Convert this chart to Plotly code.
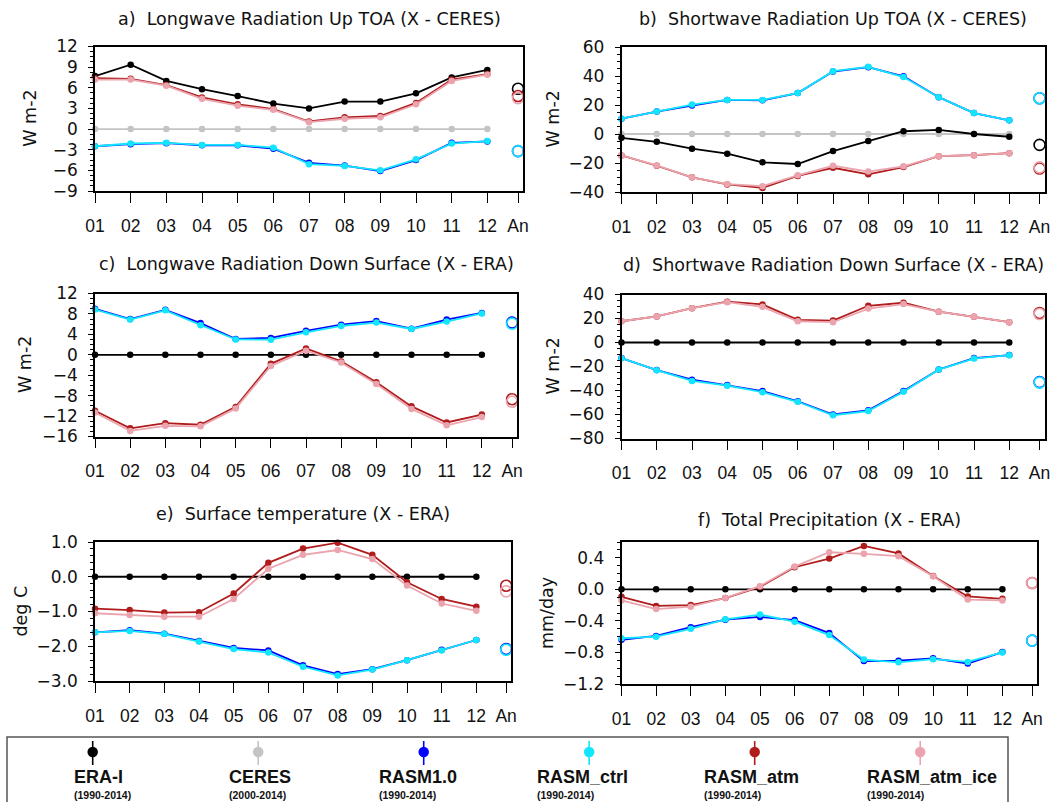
import plotly.graph_objects as go

W, H = 1056, 802

# ---------------- data ----------------
month_labels = ["01", "02", "03", "04", "05", "06", "07", "08", "09", "10", "11", "12"]
annual_label = "An"
month_pos = list(range(1, 13))
annual_pos = 12.86

series_names = ["ERA-I", "CERES", "RASM1.0", "RASM_ctrl", "RASM_atm", "RASM_atm_ice"]
series_years = ["(1990-2014)", "(2000-2014)", "(1990-2014)", "(1990-2014)", "(1990-2014)", "(1990-2014)"]

# a) Longwave Radiation Up TOA (X - CERES)
era_a = [7.7, 9.35, 7.0, 5.8, 4.8, 3.7, 3.0, 4.0, 4.0, 5.2, 7.5, 8.6]
ceres_a = [0, 0, 0, 0, 0, 0, 0, 0, 0, 0, 0, 0]
rasm10_a = [-2.5, -2.2, -2.05, -2.35, -2.35, -2.85, -4.9, -5.3, -6.1, -4.5, -2.0, -1.8]
ctrl_a = [-2.5, -2.1, -2.0, -2.3, -2.3, -2.7, -5.1, -5.35, -6.0, -4.4, -2.1, -1.75]
atm_a = [7.4, 7.3, 6.4, 4.6, 3.6, 2.9, 1.1, 1.7, 1.9, 3.8, 7.2, 8.0]
ice_a = [7.2, 7.2, 6.3, 4.4, 3.4, 2.8, 1.0, 1.5, 1.7, 3.6, 7.0, 7.9]
an_a = {"ERA-I": 5.85, "RASM1.0": -3.2, "RASM_ctrl": -3.2, "RASM_atm": 4.8, "RASM_atm_ice": 4.5}

# b) Shortwave Radiation Up TOA (X - CERES)
era_b = [-2.6, -5.4, -10.1, -13.6, -19.5, -20.7, -11.8, -4.9, 1.9, 2.8, 0.0, -1.9]
ceres_b = [0, 0, 0, 0, 0, 0, 0, 0, 0, 0, 0, 0]
rasm10_b = [10.6, 15.5, 19.6, 23.5, 23.2, 28.2, 43.1, 46.1, 39.8, 25.4, 14.4, 9.4]
ctrl_b = [10.6, 15.5, 20.3, 23.5, 23.5, 28.2, 43.3, 46.3, 39.3, 25.4, 14.4, 9.4]
atm_b = [-14.8, -21.9, -29.9, -34.8, -37.2, -28.9, -23.3, -27.8, -22.8, -15.3, -14.6, -13.2]
ice_b = [-14.8, -21.7, -29.9, -34.5, -36.0, -28.5, -21.9, -25.9, -22.3, -15.3, -14.6, -13.2]
an_b = {"ERA-I": -7.5, "RASM1.0": 24.7, "RASM_ctrl": 24.7, "RASM_atm": -23.8, "RASM_atm_ice": -23.0}

# c) Longwave Radiation Down Surface (X - ERA)
era_c = [0, 0, 0, 0, 0, 0, 0, 0, 0, 0, 0, 0]
rasm10_c = [9.0, 7.0, 8.8, 6.2, 3.1, 3.3, 4.7, 5.9, 6.6, 5.1, 6.9, 8.2]
ctrl_c = [8.85, 6.9, 8.7, 5.8, 3.0, 2.95, 4.4, 5.64, 6.3, 5.05, 6.5, 8.1]
atm_c = [-10.95, -14.4, -13.4, -13.7, -10.2, -1.77, 1.25, -1.3, -5.4, -10.1, -13.25, -11.7]
ice_c = [-11.3, -14.9, -13.9, -14.0, -10.5, -2.2, 0.8, -1.5, -5.7, -10.6, -13.8, -12.2]
an_c = {"RASM_ctrl": 6.1, "RASM1.0": 6.3, "RASM_atm": -8.7, "RASM_atm_ice": -9.2}

# d) Shortwave Radiation Down Surface (X - ERA)
era_d = [0, 0, 0, 0, 0, 0, 0, 0, 0, 0, 0, 0]
rasm10_d = [-13.0, -23.0, -31.0, -35.5, -40.5, -49.0, -60.0, -56.5, -40.5, -22.5, -13.0, -10.5]
ctrl_d = [-13.1, -23.1, -32.0, -36.0, -41.4, -49.4, -60.6, -57.1, -41.1, -22.6, -13.4, -10.6]
atm_d = [17.7, 21.7, 28.6, 34.0, 31.7, 18.9, 18.3, 30.6, 33.1, 25.7, 21.4, 16.9]
ice_d = [17.7, 21.7, 28.6, 33.6, 29.7, 17.7, 16.9, 28.3, 32.0, 25.7, 21.4, 16.9]
an_d = {"RASM1.0": -33.0, "RASM_ctrl": -33.4, "RASM_atm_ice": 23.7, "RASM_atm": 24.6}

# e) Surface temperature (X - ERA)
era_e = [0, 0, 0, 0, 0, 0, 0, 0, 0, 0, 0, 0]
rasm10_e = [-1.6, -1.54, -1.64, -1.85, -2.05, -2.12, -2.55, -2.8, -2.66, -2.4, -2.1, -1.82]
ctrl_e = [-1.6, -1.56, -1.65, -1.86, -2.08, -2.18, -2.59, -2.84, -2.67, -2.4, -2.12, -1.82]
atm_e = [-0.92, -0.96, -1.03, -1.02, -0.48, 0.4, 0.81, 0.98, 0.63, -0.16, -0.64, -0.86]
ice_e = [-1.05, -1.1, -1.15, -1.15, -0.64, 0.23, 0.63, 0.77, 0.51, -0.25, -0.77, -0.98]
an_e = {"RASM_ctrl": -2.1, "RASM1.0": -2.08, "RASM_atm_ice": -0.42, "RASM_atm": -0.26}

# f) Total Precipitation (X - ERA)
era_f = [0, 0, 0, 0, 0, 0, 0, 0, 0, 0, 0, 0]
rasm10_f = [-0.64, -0.59, -0.48, -0.385, -0.35, -0.39, -0.555, -0.91, -0.905, -0.875, -0.94, -0.795]
ctrl_f = [-0.62, -0.6, -0.5, -0.38, -0.32, -0.41, -0.58, -0.89, -0.925, -0.885, -0.92, -0.8]
atm_f = [-0.095, -0.21, -0.2, -0.11, 0.03, 0.28, 0.39, 0.55, 0.455, 0.17, -0.09, -0.12]
ice_f = [-0.14, -0.25, -0.22, -0.11, 0.04, 0.29, 0.47, 0.45, 0.42, 0.165, -0.13, -0.14]
an_f = {"RASM_ctrl": -0.65, "RASM1.0": -0.65, "RASM_atm_ice": 0.08, "RASM_atm": 0.08}

# ---------------- styles ----------------
colors = {
    "ERA-I": "#000000",
    "CERES": "#c4c4c4",
    "RASM1.0": "#0000ff",
    "RASM_ctrl": "#12e6ff",
    "RASM_atm": "#b01c1c",
    "RASM_atm_ice": "#eba3ad",
}

TITLE_FONT = dict(family="DejaVu Sans", size=17.5, color="#111")
XTICK_FONT = dict(family="Liberation Sans", size=17.5, color="#111")
YTICK_FONT = dict(family="DejaVu Sans", size=17, color="#111")

panels = [
    dict(title="a)  Longwave Radiation Up TOA (X - CERES)", ytitle="W m-2",
         box=(95, 523, 46.5, 191), title_y=18.5, ytitle_x=30,
         yrange=(-9, 12), dtick=3, minor=0.75, fmt="",
         series=[("CERES", ceres_a), ("ERA-I", era_a), ("RASM1.0", rasm10_a),
                 ("RASM_ctrl", ctrl_a), ("RASM_atm", atm_a), ("RASM_atm_ice", ice_a)],
         annual=an_a),
    dict(title="b)  Shortwave Radiation Up TOA (X - CERES)", ytitle="W m-2",
         box=(621.5, 1044.5, 47, 192), title_y=18.5, ytitle_x=552,
         yrange=(-40, 60), dtick=20, minor=5, fmt="",
         series=[("CERES", ceres_b), ("ERA-I", era_b), ("RASM1.0", rasm10_b),
                 ("RASM_ctrl", ctrl_b), ("RASM_atm", atm_b), ("RASM_atm_ice", ice_b)],
         annual=an_b),
    dict(title="c)  Longwave Radiation Down Surface (X - ERA)", ytitle="W m-2",
         box=(95, 517, 293.5, 436.5), title_y=264, ytitle_x=25,
         yrange=(-16, 12), dtick=4, minor=1, fmt="",
         series=[("ERA-I", era_c), ("RASM1.0", rasm10_c), ("RASM_ctrl", ctrl_c),
                 ("RASM_atm", atm_c), ("RASM_atm_ice", ice_c)],
         annual=an_c),
    dict(title="d)  Shortwave Radiation Down Surface (X - ERA)", ytitle="W m-2",
         box=(621.5, 1044.5, 294.5, 438.5), title_y=265, ytitle_x=552,
         yrange=(-80, 40), dtick=20, minor=5, fmt="",
         series=[("ERA-I", era_d), ("RASM1.0", rasm10_d), ("RASM_ctrl", ctrl_d),
                 ("RASM_atm", atm_d), ("RASM_atm_ice", ice_d)],
         annual=an_d),
    dict(title="e)  Surface temperature (X - ERA)", ytitle="deg C",
         box=(95, 511, 542, 681), title_y=514, ytitle_x=20,
         yrange=(-3, 1), dtick=1, minor=0.2, fmt=".1f",
         series=[("ERA-I", era_e), ("RASM1.0", rasm10_e), ("RASM_ctrl", ctrl_e),
                 ("RASM_atm", atm_e), ("RASM_atm_ice", ice_e)],
         annual=an_e),
    dict(title="f)  Total Precipitation (X - ERA)", ytitle="mm/day",
         box=(621.5, 1037, 542, 684), title_y=520, ytitle_x=547,
         yrange=(-1.2, 0.6), dtick=0.4, minor=0.1, fmt=".1f",
         series=[("ERA-I", era_f), ("RASM1.0", rasm10_f), ("RASM_ctrl", ctrl_f),
                 ("RASM_atm", atm_f), ("RASM_atm_ice", ice_f)],
         annual=an_f),
]

fig = go.Figure()
annotations = []
layout = {}

for i, p in enumerate(panels):
    n = "" if i == 0 else str(i + 1)
    xref, yref = "x" + n, "y" + n
    x0, x1, y0, y1 = p["box"]
    for name, vals in p["series"]:
        c = colors[name]
        fig.add_trace(go.Scatter(
            x=month_pos, y=vals, xaxis=xref, yaxis=yref, mode="lines+markers",
            line=dict(color=c, width=1.8), marker=dict(color=c, size=6.5),
            cliponaxis=False, showlegend=False, hoverinfo="skip"))
    for name, _ in p["series"]:
        if name in p["annual"]:
            c = colors[name]
            fig.add_trace(go.Scatter(
                x=[annual_pos], y=[p["annual"][name]], xaxis=xref, yaxis=yref,
                mode="markers",
                marker=dict(symbol="circle-open", size=11, color=c, line=dict(color=c, width=1.6)),
                cliponaxis=False, showlegend=False, hoverinfo="skip"))
    layout["xaxis" + n] = dict(
        domain=[x0 / W, x1 / W], anchor=yref, range=[1, 13.0],
        tickmode="array", tickvals=month_pos + [annual_pos],
        ticktext=month_labels + [annual_label],
        ticks="outside", ticklen=10, tickwidth=1.3, tickcolor="black",
        showline=True, linecolor="black", linewidth=1.6, mirror=True,
        showgrid=False, zeroline=False, tickfont=XTICK_FONT, ticklabelstandoff=8,
        automargin=False, fixedrange=True)
    layout["yaxis" + n] = dict(
        domain=[1 - y1 / H, 1 - y0 / H], anchor=xref, range=list(p["yrange"]),
        tick0=0, dtick=p["dtick"], tickformat=p["fmt"],
        ticks="outside", ticklen=5, tickwidth=1.3, tickcolor="black",
        minor=dict(dtick=p["minor"], tick0=0, ticks="outside", ticklen=3,
                   tickcolor="black", tickwidth=1, showgrid=False),
        showline=True, linecolor="black", linewidth=1.6, mirror=True,
        showgrid=False, zeroline=False, tickfont=YTICK_FONT, ticklabelstandoff=7,
        automargin=False, fixedrange=True)
    annotations.append(dict(
        text=p["title"], x=(x0 + x1) / 2 / W, y=1 - p["title_y"] / H,
        xref="paper", yref="paper", xanchor="center", yanchor="middle",
        showarrow=False, font=TITLE_FONT))
    annotations.append(dict(
        text=p["ytitle"], x=p["ytitle_x"] / W, y=1 - (y0 + y1) / 2 / H,
        xref="paper", yref="paper", xanchor="center", yanchor="middle",
        textangle=-90, showarrow=False, font=TITLE_FONT))

# ---------------- legend (drawn on its own hidden axes, pixel units) ----------------
leg_axis = str(len(panels) + 1)
leg_top = 730
leg_marker_x0, leg_marker_dx = 92.7, 165.5
leg_text_x = [71.5, 226.5, 377, 535, 702, 865]
leg_marker_y, leg_stem = 752, (741, 765)
leg_label_y, leg_years_y = 777, 795

for k, name in enumerate(series_names):
    c = colors[name]
    mx = leg_marker_x0 + k * leg_marker_dx
    fig.add_trace(go.Scatter(
        x=[mx, mx], y=[leg_stem[0], leg_stem[1]], xaxis="x" + leg_axis, yaxis="y" + leg_axis,
        mode="lines", line=dict(color=c, width=1.6), showlegend=False, hoverinfo="skip",
        cliponaxis=False))
    fig.add_trace(go.Scatter(
        x=[mx], y=[leg_marker_y], xaxis="x" + leg_axis, yaxis="y" + leg_axis,
        mode="markers", marker=dict(color=c, size=10.5), showlegend=False, hoverinfo="skip",
        cliponaxis=False))
    annotations.append(dict(
        text="<b>" + name + "</b>", x=leg_text_x[k] / W, y=1 - leg_label_y / H,
        xref="paper", yref="paper", xanchor="left", yanchor="middle", showarrow=False,
        font=dict(family="Liberation Sans", size=18, color="#111")))
    annotations.append(dict(
        text="<b>" + series_years[k] + "</b>", x=leg_text_x[k] / W, y=1 - leg_years_y / H,
        xref="paper", yref="paper", xanchor="left", yanchor="middle", showarrow=False,
        font=dict(family="Liberation Sans", size=10.5, color="#111")))

layout["xaxis" + leg_axis] = dict(domain=[0, 1], range=[0, W], visible=False,
                                  anchor="y" + leg_axis, fixedrange=True, automargin=False)
layout["yaxis" + leg_axis] = dict(domain=[0, 1 - leg_top / H], range=[H, leg_top], visible=False,
                                  anchor="x" + leg_axis, fixedrange=True, automargin=False)

shapes = [dict(type="rect", xref="paper", yref="paper",
               x0=7 / W, x1=1008 / W, y0=-0.05, y1=1 - 737 / H,
               line=dict(color="#555555", width=1.5), fillcolor="rgba(0,0,0,0)", layer="above")]

fig.update_layout(
    template="none",
    width=W, height=H, margin=dict(l=0, r=0, t=0, b=0, pad=0, autoexpand=False),
    paper_bgcolor="white", plot_bgcolor="rgba(0,0,0,0)",
    font=dict(family="Liberation Sans", color="#111"),
    showlegend=False, annotations=annotations, shapes=shapes, **layout)

fig.write_html(
    "out.html",
    config={"displayModeBar": False},
    post_script="document.body.style.margin='0px';document.body.style.overflow='hidden';",
)
